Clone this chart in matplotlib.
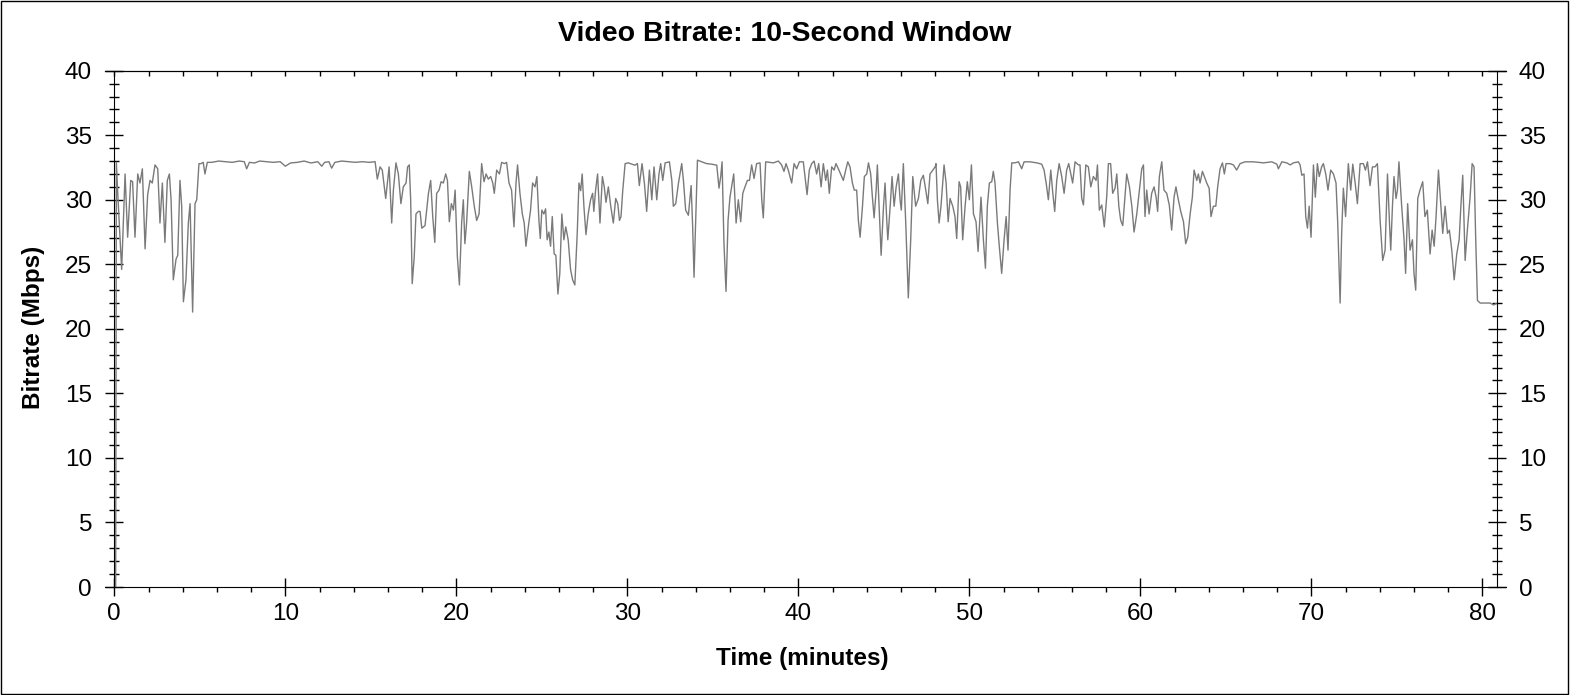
import matplotlib
matplotlib.use("Agg")
import matplotlib.pyplot as plt
from matplotlib.patches import Rectangle
from matplotlib.ticker import MultipleLocator

plt.rcParams['font.family'] = ['Liberation Sans', 'DejaVu Sans']

# time in minutes and 10-second window bitrate in Mbps
t_start = [0.08, 0.12, 0.2, 0.3, 0.43, 0.63, 0.78, 0.96, 1.07, 1.21, 1.37, 1.50, 1.64, 1.80,
           1.95, 2.09, 2.22, 2.38, 2.54, 2.67, 2.81, 2.96, 3.10, 3.22, 3.32, 3.45, 3.61, 3.71,
           3.84, 3.94, 4.04, 4.19, 4.33, 4.43, 4.58, 4.72, 4.82, 4.95, 5.07, 5.20, 5.30, 5.44,
           5.7, 6.1, 6.5, 6.9, 7.3, 7.6, 7.74, 7.9, 8.2, 8.5, 8.9, 9.3, 9.7, 10.0, 10.3, 10.7,
           11.1, 11.5, 11.9, 12.13, 12.3, 12.55, 12.71, 12.9, 13.3, 13.7, 14.1, 14.5, 14.9, 15.25]
v_start = [0, 32.9, 30.5, 28.0, 24.6, 32.0, 27.1, 31.5, 31.4, 27.1, 32.0, 31.3, 32.4, 26.2,
           30.4, 31.5, 31.3, 32.7, 32.4, 28.2, 31.3, 26.7, 31.5, 32.0, 30.0, 23.8, 25.4, 25.7,
           31.5, 29.5, 22.1, 23.8, 28.2, 29.7, 21.3, 29.7, 30.0, 32.8, 32.8, 32.9, 32.0, 32.9,
           32.9, 33.0, 32.95, 32.9, 33.0, 32.95, 32.4, 32.9, 32.85, 33.0, 32.95, 32.9, 32.95, 32.6, 32.85, 32.9,
           33.0, 32.85, 32.95, 32.6, 32.9, 32.95, 32.45, 32.9, 33.0, 32.95, 32.9, 32.95, 32.9, 32.95]

t_mid1 = [15.38, 15.54, 15.67, 15.87, 16.07, 16.22, 16.32, 16.47, 16.61, 16.76, 16.90, 17.06, 17.15,
          17.25, 17.33, 17.42, 17.54, 17.64, 17.78, 17.88, 17.98, 18.17, 18.37, 18.50, 18.62, 18.74,
          18.85, 18.99, 19.11, 19.24, 19.38, 19.48, 19.59, 19.71, 19.83, 19.93, 20.06, 20.18, 20.31,
          20.41, 20.50, 20.60, 20.76, 20.90, 21.05, 21.19, 21.33, 21.48, 21.62, 21.74, 21.87, 22.01,
          22.13, 22.22, 22.36, 22.52, 22.65, 22.81, 22.94, 23.08, 23.23, 23.37, 23.49, 23.58, 23.72,
          23.86, 23.97, 24.07, 24.21, 24.34, 24.46, 24.60, 24.71, 24.83, 24.91, 25.00, 25.12, 25.22,
          25.31, 25.41, 25.51, 25.61, 25.72, 25.82, 25.94, 26.05, 26.17, 26.29, 26.40, 26.54, 26.68,
          26.80, 26.93, 27.07, 27.17, 27.27, 27.36, 27.46, 27.58, 27.71, 27.85, 27.97, 28.04, 28.14,
          28.26, 28.40, 28.54, 28.65, 28.75, 28.89, 29.03, 29.18, 29.32, 29.44, 29.54, 29.63, 29.73, 29.87]
v_mid1 = [31.6, 32.55, 32.3, 30.1, 32.55, 28.2, 30.75, 32.86, 32.0, 29.7, 31.0, 31.3, 32.55,
          32.7, 30.0, 23.5, 25.6, 28.9, 29.1, 29.1, 27.8, 28.0, 30.5, 31.5, 28.7, 26.7,
          30.5, 30.75, 31.4, 31.3, 32.0, 31.5, 28.3, 29.7, 29.2, 30.75, 25.6, 23.4, 28.2,
          30.0, 26.6, 28.2, 32.2, 31.0, 29.5, 28.4, 28.9, 32.8, 31.4, 32.0, 31.6, 31.8,
          31.3, 30.5, 32.3, 32.0, 32.9, 32.8, 32.9, 31.3, 30.75, 27.9, 31.3, 32.7, 30.5,
          28.9, 28.2, 26.4, 27.9, 29.2, 31.3, 31.0, 31.8, 28.4, 27.0, 29.2, 28.9, 29.3,
          26.9, 27.5, 26.4, 28.7, 25.8, 25.7, 22.7, 24.3, 28.9, 26.9, 27.9, 26.9, 24.6,
          23.8, 23.4, 27.4, 31.3, 30.7, 32.0, 29.5, 27.3, 28.9, 30.0, 30.5, 29.1, 30.7,
          32.0, 28.2, 31.8, 31.0, 29.8, 31.0, 29.5, 28.2, 30.1, 29.7, 28.4, 28.7, 30.7, 32.8]

t_mid2 = [30.06, 30.26, 30.45, 30.59, 30.70, 30.86, 31.00, 31.13, 31.29, 31.43, 31.56, 31.72, 31.85,
          31.95, 32.07, 32.21, 32.46, 32.60, 32.69, 32.83, 32.99, 33.18, 33.28, 33.41, 33.57, 33.73,
          33.82, 33.90, 34.02, 34.10, 34.35, 34.64, 34.93, 35.23, 35.36, 35.46, 35.54, 35.65, 35.77,
          35.89, 36.00, 36.10, 36.22, 36.36, 36.49, 36.63, 36.75, 36.88, 37.02, 37.14, 37.27, 37.41,
          37.56, 37.76, 37.86, 37.95, 38.09, 38.54, 38.83, 39.02, 39.16, 39.28, 39.41, 39.61, 39.75,
          39.90, 40.06, 40.29, 40.39, 40.51, 40.64, 40.78, 40.92, 41.07, 41.19, 41.33, 41.46, 41.60,
          41.70, 41.81, 41.95, 42.09, 42.20, 42.34, 42.47, 42.63, 42.77, 42.89, 43.02, 43.16, 43.27,
          43.41, 43.51, 43.61, 43.75, 43.86, 44.00, 44.10, 44.23, 44.33, 44.43, 44.55, 44.62, 44.72, 44.84]
v_mid2 = [32.86, 32.76, 32.68, 32.81, 31.1, 32.8, 31.26, 29.1, 32.3, 30.0, 32.55, 30.0, 32.0,
          32.8, 31.5, 32.86, 32.94, 31.5, 29.5, 29.7, 31.3, 32.8, 31.5, 29.2, 28.8, 31.1,
          27.9, 24.0, 29.5, 33.07, 32.94, 32.8, 32.76, 32.68, 30.9, 31.8, 32.94, 26.6, 22.9,
          28.4, 30.2, 31.0, 32.0, 28.2, 30.0, 28.3, 30.5, 31.0, 31.5, 31.5, 32.7, 31.65,
          32.8, 32.86, 30.0, 28.6, 32.94, 32.86, 33.0, 32.7, 32.2, 32.8, 32.3, 31.3, 32.8,
          32.4, 32.94, 32.94, 31.8, 30.4, 32.3, 32.8, 33.0, 32.0, 32.8, 31.0, 32.8, 31.5,
          32.3, 30.5, 32.55, 32.3, 32.8, 32.4, 32.0, 31.5, 32.3, 32.94, 32.55, 31.3, 30.75,
          30.75, 28.4, 27.1, 29.5, 31.8, 32.0, 32.86, 32.0, 30.2, 28.6, 30.75, 32.7, 29.5, 25.7]

t_mid3 = [44.98, 45.07, 45.17, 45.23, 45.37, 45.48, 45.60, 45.72, 45.85, 45.95, 46.02, 46.14, 46.28,
          46.43, 46.57, 46.69, 46.86, 47.02, 47.16, 47.31, 47.45, 47.57, 47.70, 47.86, 48.00, 48.05,
          48.13, 48.23, 48.34, 48.52, 48.64, 48.76, 48.87, 49.03, 49.16, 49.26, 49.40, 49.49, 49.61,
          49.75, 49.88, 50.00, 50.12, 50.24, 50.39, 50.51, 50.68, 50.82, 50.94, 51.05, 51.17, 51.31,
          51.40, 51.50, 51.64, 51.75, 51.89, 52.03, 52.15, 52.26, 52.38, 52.48, 52.67, 52.87, 53.06,
          53.20, 53.55, 53.94, 54.23, 54.37, 54.49, 54.62, 54.76, 54.88, 54.99, 55.11, 55.25, 55.40,
          55.54, 55.69, 55.81, 55.93, 56.04, 56.18, 56.38, 56.47, 56.57, 56.67, 56.81, 56.96, 57.10,
          57.25, 57.41, 57.49, 57.60, 57.74, 57.89, 58.03, 58.13, 58.26, 58.38, 58.52, 58.62, 58.74,
          58.85, 58.97, 59.11, 59.20, 59.36, 59.50, 59.63, 59.79, 59.94, 60.08]
v_mid3 = [29.5, 31.3, 28.4, 26.9, 29.5, 31.8, 29.5, 31.0, 32.0, 29.97, 29.2, 32.8, 28.2,
          22.4, 26.9, 31.8, 29.5, 30.1, 31.5, 31.9, 30.75, 29.7, 32.0, 32.3, 32.55, 32.8,
          30.0, 28.2, 29.5, 32.7, 31.3, 28.3, 30.1, 29.5, 28.7, 27.0, 31.4, 31.0, 26.9,
          29.5, 31.4, 30.0, 32.7, 28.9, 28.3, 26.0, 30.2, 26.9, 24.7, 29.5, 31.3, 31.4,
          32.2, 31.3, 28.2, 26.4, 24.3, 26.9, 28.7, 26.1, 30.75, 32.86, 32.86, 32.94, 32.4,
          32.94, 32.94, 32.86, 32.76, 32.3, 31.3, 30.0, 32.3, 30.5, 29.1, 31.5, 32.8, 31.8,
          30.5, 32.3, 32.8, 32.0, 31.3, 32.94, 32.7, 32.7, 30.1, 29.6, 32.7, 32.55, 31.0,
          31.8, 31.5, 32.7, 29.2, 29.6, 27.9, 30.2, 32.8, 32.8, 30.5, 30.9, 32.0, 29.5,
          28.4, 28.0, 30.5, 32.0, 31.0, 29.5, 27.5, 28.9, 30.75, 32.4]

t_end = [60.18, 60.27, 60.37, 60.51, 60.66, 60.80, 60.92, 61.01, 61.11, 61.25, 61.38, 61.54, 61.69,
         61.83, 61.97, 62.08, 62.22, 62.36, 62.52, 62.65, 62.77, 62.91, 63.04, 63.14, 63.30, 63.39,
         63.49, 63.63, 63.74, 63.88, 64.02, 64.13, 64.27, 64.41, 64.52, 64.66, 64.80, 64.91, 65.01,
         65.25, 65.44, 65.63, 65.83, 66.12, 66.61, 67.20, 67.68, 67.98, 68.07, 68.27, 68.56, 68.76,
         68.95, 69.24, 69.34, 69.44, 69.57, 69.67, 69.77, 69.87, 69.98, 70.12, 70.23, 70.35, 70.46,
         70.60, 70.70, 70.84, 70.97, 71.13, 71.29, 71.44, 71.54, 71.68, 71.77, 71.87, 72.00, 72.16,
         72.30, 72.42, 72.56, 72.69, 72.85, 73.04, 73.16, 73.28, 73.43, 73.57, 73.72, 73.86, 74.02,
         74.17, 74.31, 74.45, 74.56, 74.64, 74.74, 74.83, 74.95, 75.03, 75.12, 75.28, 75.42, 75.51,
         75.63, 75.77, 75.91, 76.00, 76.10, 76.22, 76.35, 76.51, 76.64, 76.78, 76.94, 77.06, 77.18,
         77.29, 77.43, 77.57, 77.68, 77.82, 77.96, 78.07, 78.21, 78.35, 78.50, 78.64, 78.74, 78.85,
         78.99, 79.12, 79.28, 79.40, 79.51, 79.61, 79.71, 79.87, 80.06, 80.26, 80.45, 80.65, 80.80]
v_end = [32.7, 28.7, 30.75, 28.9, 30.5, 31.0, 30.2, 29.1, 31.8, 32.94, 30.75, 30.5, 29.6,
         27.65, 30.2, 31.0, 30.0, 29.1, 28.3, 26.6, 27.1, 28.9, 30.2, 32.3, 31.5, 32.0,
         31.3, 32.2, 31.8, 31.3, 30.9, 28.7, 29.5, 29.5, 31.0, 32.4, 32.86, 32.0, 32.8,
         32.8, 32.7, 32.3, 32.8, 32.94, 32.94, 32.86, 32.94, 32.76, 32.4, 32.94, 32.86, 32.7,
         32.86, 32.94, 32.7, 31.9, 32.0, 28.7, 27.8, 29.5, 27.1, 32.7, 30.2, 32.8, 31.8,
         32.55, 32.8, 32.0, 30.75, 32.3, 32.0, 31.3, 28.2, 22.0, 27.4, 30.9, 28.7, 32.8,
         30.75, 32.76, 31.3, 29.7, 32.8, 32.8, 32.3, 32.94, 31.1, 32.55, 32.55, 32.8, 28.4,
         25.3, 26.1, 32.0, 28.4, 26.1, 29.5, 31.8, 30.1, 30.75, 32.94, 29.5, 26.9, 24.3,
         29.7, 26.1, 26.9, 24.3, 23.0, 30.1, 30.75, 31.4, 28.7, 29.2, 25.8, 27.65, 26.4,
         28.7, 32.3, 29.5, 27.4, 29.5, 27.4, 27.65, 26.1, 23.8, 25.8, 26.9, 29.5, 31.9,
         25.3, 27.65, 30.2, 32.8, 32.55, 26.9, 22.2, 22.0, 22.0, 22.0, 22.0, 21.85, 21.95]

times = t_start + t_mid1 + t_mid2 + t_mid3 + t_end
bitrate = v_start + v_mid1 + v_mid2 + v_mid3 + v_end

fig = plt.figure(figsize=(15.7, 6.95), dpi=100)
ax = fig.add_axes([105 / 1570, 108 / 695, 1401 / 1570, 516.3 / 695])

ax.plot(times, bitrate, color='#7a7a7a', lw=1.0)

ax.set_xlim(-0.544, 81.38)
ax.set_ylim(0, 40)
ax.spines['left'].set_position(('data', 0))
ax.spines['right'].set_position(('data', 80.84))

ax.xaxis.set_major_locator(MultipleLocator(10))
ax.xaxis.set_minor_locator(MultipleLocator(2))
ax.yaxis.set_major_locator(MultipleLocator(5))
ax.yaxis.set_minor_locator(MultipleLocator(1))

ax.tick_params(axis='x', which='major', direction='inout', length=13, width=1,
               labelsize=17.5, pad=5)
ax.tick_params(axis='x', which='minor', direction='out', length=3.6, width=1)
ax.tick_params(axis='y', which='major', direction='inout', length=13, width=1,
               labelsize=17.5, pad=9.5, left=True, right=True, labelleft=True, labelright=True)
ax.tick_params(axis='y', which='minor', direction='inout', length=7, width=1,
               left=True, right=True)

top = ax.secondary_xaxis('top')
top.xaxis.set_major_locator(MultipleLocator(2))
top.tick_params(axis='x', which='major', direction='in', length=3.6, width=1,
                labeltop=False)
top.set_xticklabels([])

ax.set_xlabel('Time (minutes)', fontsize=17.5, fontweight='bold', va='center')
ax.xaxis.set_label_coords(0.498, -0.139)
ax.set_ylabel('Bitrate (Mbps)', fontsize=17.5, fontweight='bold', va='center')
ax.yaxis.set_label_coords(-0.051, 0.5036)

fig.text(0.5, 1 - 34 / 695, 'Video Bitrate: 10-Second Window', ha='center', va='center',
         fontsize=20.5, fontweight='bold')

fig.patches.append(Rectangle((0.0005, 0.001), 0.9985, 0.997, transform=fig.transFigure,
                             fill=False, edgecolor='black', lw=1))

fig.savefig('out.png', dpi=100)
